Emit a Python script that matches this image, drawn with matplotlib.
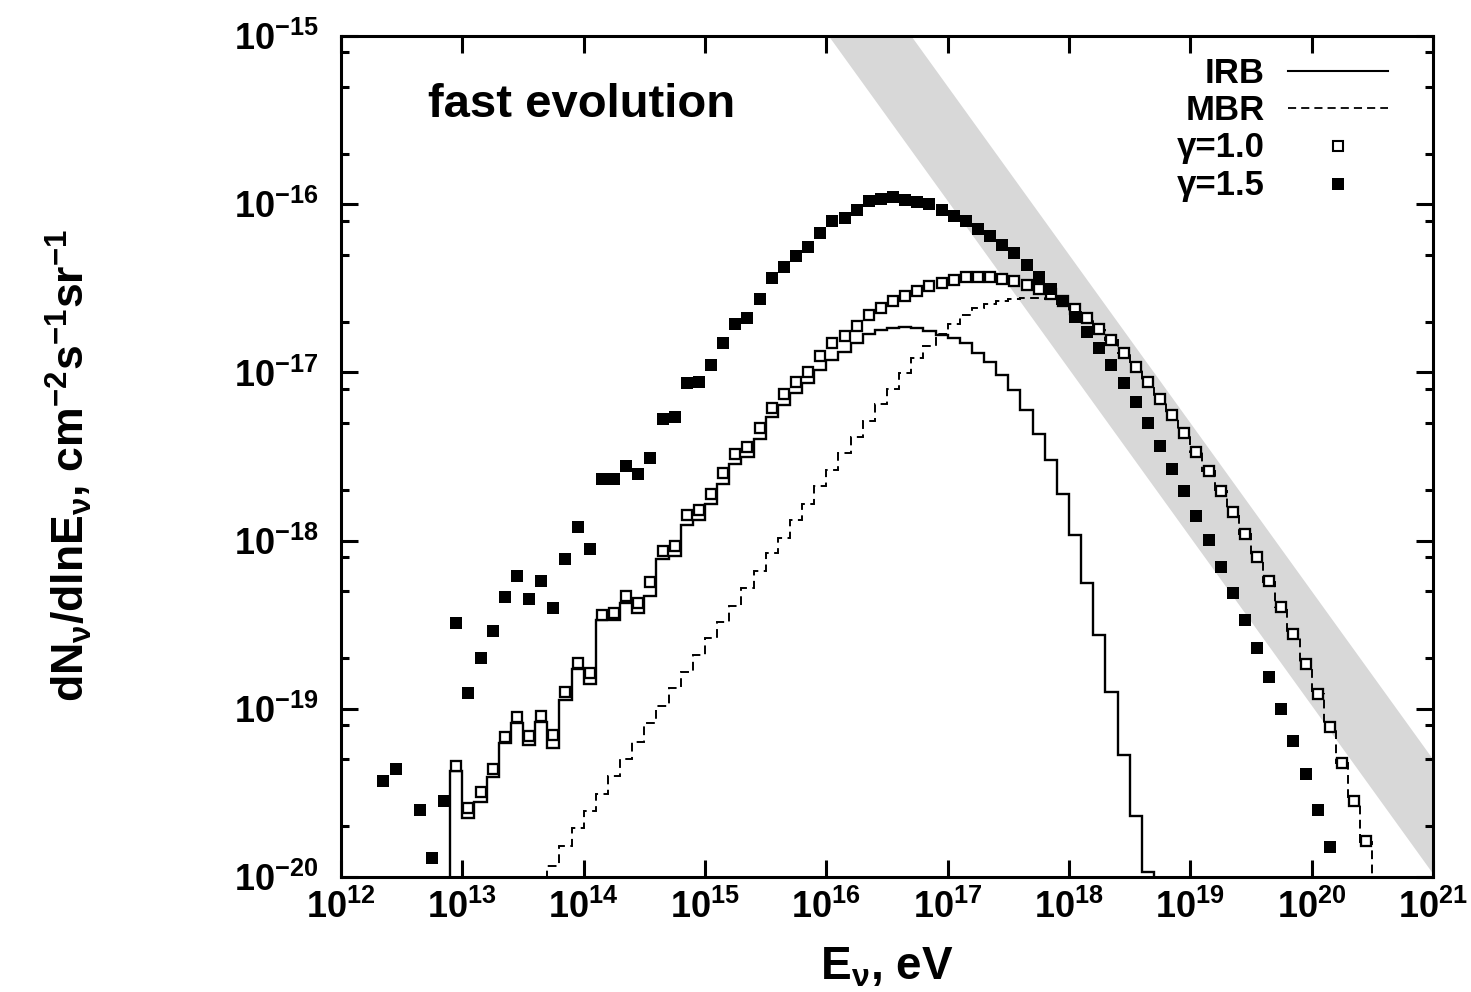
import numpy as np
import matplotlib
matplotlib.use("Agg")
import matplotlib.pyplot as plt
from matplotlib.ticker import FixedLocator, FixedFormatter, NullFormatter

plt.rcParams['font.family'] = ['Liberation Sans', 'DejaVu Sans']
plt.rcParams['font.weight'] = 'bold'
plt.rcParams['mathtext.fontset'] = 'custom'
plt.rcParams['mathtext.rm'] = 'Liberation Sans:bold'
plt.rcParams['mathtext.it'] = 'Liberation Sans:bold'
plt.rcParams['mathtext.bf'] = 'Liberation Sans:bold'
plt.rcParams['mathtext.sf'] = 'Liberation Sans:bold'
plt.rcParams['mathtext.default'] = 'rm'

# ---------------- data (log10 E/eV, log10 dN/dlnE [cm^-2 s^-1 sr^-1]) ----------------
# gamma = 1.5 : filled squares
g15_logE = [12.35, 12.45, 12.65, 12.75, 12.85, 12.95, 13.05, 13.15, 13.25, 13.35,
            13.45, 13.55, 13.65, 13.75, 13.85, 13.95, 14.05, 14.15, 14.25, 14.35,
            14.45, 14.55, 14.65, 14.75, 14.85, 14.95, 15.05, 15.15, 15.25, 15.35,
            15.45, 15.55, 15.65, 15.75, 15.85, 15.95, 16.05, 16.15, 16.25, 16.35,
            16.45, 16.55, 16.65, 16.75, 16.85, 16.95, 17.05, 17.15, 17.25, 17.35,
            17.45, 17.55, 17.65, 17.75, 17.85, 17.95, 18.05, 18.15, 18.25, 18.35,
            18.45, 18.55, 18.65, 18.75, 18.85, 18.95, 19.05, 19.15, 19.25, 19.35,
            19.45, 19.55, 19.65, 19.75, 19.85, 19.95, 20.05, 20.15]
g15_logF = [-19.429, -19.358, -19.602, -19.887, -19.548,
            -18.490, -18.906, -18.698, -18.537, -18.335, -18.210, -18.347, -18.240, -18.401, -18.109,
            -17.919, -18.050,
            -17.634, -17.634, -17.556, -17.604, -17.509, -17.277, -17.265, -17.063, -17.057, -16.956,
            -16.825, -16.712, -16.677, -16.564, -16.439, -16.373, -16.308, -16.254, -16.171, -16.100,
            -16.082, -16.034, -15.981, -15.969, -15.957, -15.975, -15.987, -15.999, -16.034, -16.070,
            -16.100, -16.147, -16.192, -16.243, -16.290, -16.361, -16.433, -16.504, -16.576, -16.671,
            -16.760, -16.855, -16.956, -17.063, -17.176, -17.301, -17.438, -17.574, -17.705, -17.854,
            -17.996, -18.157, -18.312, -18.472, -18.639, -18.811, -19.001, -19.191, -19.388, -19.602,
            -19.822]

# gamma = 1.0 : open squares
g10_logE = [12.95, 13.05, 13.15, 13.25, 13.35, 13.45, 13.55, 13.65, 13.75, 13.85,
            13.95, 14.05, 14.15, 14.25, 14.35, 14.45, 14.55, 14.65, 14.75, 14.85,
            14.95, 15.05, 15.15, 15.25, 15.35, 15.45, 15.55, 15.65, 15.75, 15.85,
            15.95, 16.05, 16.15, 16.25, 16.35, 16.45, 16.55, 16.65, 16.75, 16.85,
            16.95, 17.05, 17.15, 17.25, 17.35, 17.45, 17.55, 17.65, 17.75, 17.85,
            17.95, 18.05, 18.15, 18.25, 18.35, 18.45, 18.55, 18.65, 18.75, 18.85,
            18.95, 19.05, 19.15, 19.25, 19.35, 19.45, 19.55, 19.65, 19.75, 19.85,
            19.95, 20.05, 20.15, 20.25, 20.35, 20.45]
g10_logF = [-19.340, -19.590, -19.495, -19.358, -19.168, -19.049, -19.162, -19.043, -19.156, -18.900,
            -18.728, -18.787, -18.442, -18.430, -18.329, -18.371, -18.249, -18.060, -18.030, -17.848,
            -17.818, -17.723, -17.598, -17.485, -17.442, -17.329, -17.210, -17.128, -17.055, -16.996,
            -16.902, -16.827, -16.784, -16.724, -16.659, -16.617, -16.576, -16.544, -16.516, -16.486,
            -16.466, -16.448, -16.435, -16.435, -16.434, -16.442, -16.457, -16.478, -16.502, -16.536,
            -16.573, -16.621, -16.677, -16.740, -16.806, -16.885, -16.968, -17.060, -17.158, -17.256,
            -17.363, -17.471, -17.586, -17.707, -17.828, -17.960, -18.096, -18.243, -18.396, -18.555,
            -18.731, -18.912, -19.108, -19.321, -19.548, -19.788]

# IRB contribution : solid histogram (bin edges in log10 E)
irb_edges = [12.9, 13.0, 13.1, 13.2, 13.3, 13.4, 13.5, 13.6, 13.7, 13.8,
             13.9, 14.0, 14.1, 14.2, 14.3, 14.4, 14.5, 14.6, 14.7, 14.8,
             14.9, 15.0, 15.1, 15.2, 15.3, 15.4, 15.5, 15.6, 15.7, 15.8,
             15.9, 16.0, 16.1, 16.2, 16.3, 16.4, 16.5, 16.6, 16.7, 16.8,
             16.9, 17.0, 17.1, 17.2, 17.3, 17.4, 17.5, 17.6, 17.7, 17.8,
             17.9, 18.0, 18.1, 18.2, 18.3, 18.4, 18.5, 18.6, 18.7]
irb_logF = [-19.370, -19.649, -19.554, -19.405, -19.203, -19.084, -19.215, -19.078, -19.233, -18.948,
            -18.763, -18.853, -18.472, -18.472, -18.371, -18.430, -18.329, -18.109, -18.092, -17.907,
            -17.880, -17.782, -17.664, -17.547, -17.500, -17.394, -17.265, -17.194, -17.124, -17.065,
            -16.986, -16.926, -16.879, -16.825, -16.772, -16.748, -16.736, -16.733, -16.736, -16.754,
            -16.778, -16.796, -16.825, -16.882, -16.941, -17.018, -17.102, -17.221, -17.369, -17.521,
            -17.723, -17.964, -18.255, -18.564, -18.903, -19.275, -19.640, -19.968]

# MBR contribution : dashed histogram
mbr_edges = [13.7, 13.8, 13.9, 14.0, 14.1, 14.2, 14.3, 14.4, 14.5, 14.6,
             14.7, 14.8, 14.9, 15.0, 15.1, 15.2, 15.3, 15.4, 15.5, 15.6,
             15.7, 15.8, 15.9, 16.0, 16.1, 16.2, 16.3, 16.4, 16.5, 16.6,
             16.7, 16.8, 16.9, 17.0, 17.1, 17.2, 17.3, 17.4, 17.5, 17.6,
             17.7, 17.8, 17.9, 18.0, 18.1, 18.2, 18.3, 18.4, 18.5, 18.6,
             18.7, 18.8, 18.9, 19.0, 19.1, 19.2, 19.3, 19.4, 19.5, 19.6,
             19.7, 19.8, 19.9, 20.0, 20.1, 20.2, 20.3, 20.4, 20.5]
mbr_logF = [-19.935, -19.813, -19.709, -19.605, -19.507, -19.400, -19.298, -19.197, -19.084, -18.983,
            -18.876, -18.781, -18.680, -18.579, -18.486, -18.388, -18.282, -18.181, -18.076, -17.982,
            -17.880, -17.782, -17.675, -17.582, -17.482, -17.384, -17.287, -17.190, -17.100, -17.002,
            -16.916, -16.841, -16.772, -16.712, -16.659, -16.620, -16.593, -16.574, -16.564, -16.558,
            -16.558, -16.564, -16.595, -16.640, -16.690, -16.746, -16.808, -16.886, -16.969, -17.061,
            -17.159, -17.257, -17.364, -17.472, -17.587, -17.708, -17.829, -17.961, -18.097, -18.244,
            -18.397, -18.556, -18.732, -18.913, -19.109, -19.322, -19.549, -19.789]

# grey band: E * dN/dlnE = const (lower, upper), in eV cm^-2 s^-1 sr^-1
band_EF = [10 ** 1.02, 10 ** 1.70]
band_E = [1e12, 1e21]

x_ticks = [1e12, 1e13, 1e14, 1e15, 1e16, 1e17, 1e18, 1e19, 1e20, 1e21]
x_ticklabels = [r'$\mathregular{10^{%d}}$' % e for e in range(12, 22)]
y_ticks = [1e-20, 1e-19, 1e-18, 1e-17, 1e-16, 1e-15]
y_ticklabels = [r'$\mathregular{10^{%d}}$' % e for e in range(-20, -14)]
y_minor_mult = [2, 5, 8]

# ---------------- figure ----------------
W, H = 1471, 992
fig = plt.figure(figsize=(W / 100, H / 100), dpi=100)
ax = fig.add_axes([341 / W, 1 - 877 / H, 1092 / W, 841 / H])
ax.set_xscale('log')
ax.set_yscale('log')

bE = np.array(band_E)
ax.fill_between(bE, band_EF[0] / bE, band_EF[1] / bE, color='#d8d8d8', lw=0, zorder=1)

ax.stairs(10 ** np.array(irb_logF), 10 ** np.array(irb_edges), baseline=1e-22,
          fill=False, color='black', lw=1.7, zorder=3)
ax.stairs(10 ** np.array(mbr_logF), 10 ** np.array(mbr_edges), baseline=1e-22,
          fill=False, color='black', lw=1.4, linestyle=(0, (4.5, 2.8)), zorder=3)

ax.plot(10 ** np.array(g10_logE), 10 ** np.array(g10_logF), 's', ms=7.0, mfc='white',
        mec='black', mew=1.65, ls='none', zorder=4)
ax.plot(10 ** np.array(g15_logE), 10 ** np.array(g15_logF), 's', ms=8.6, mfc='black',
        mec='black', mew=0, ls='none', zorder=5)

ax.set_xlim(1e12, 1e21)
ax.set_ylim(1e-20, 1e-15)

ax.xaxis.set_major_locator(FixedLocator(x_ticks))
ax.xaxis.set_major_formatter(FixedFormatter(x_ticklabels))
ax.xaxis.set_minor_locator(FixedLocator([]))
ax.yaxis.set_major_locator(FixedLocator(y_ticks))
ax.yaxis.set_major_formatter(FixedFormatter(y_ticklabels))
ax.yaxis.set_minor_locator(FixedLocator([m * t for t in y_ticks[:-1] for m in y_minor_mult]))
ax.yaxis.set_minor_formatter(NullFormatter())

ax.tick_params(which='both', direction='in', top=True, right=True, width=2.2, labelsize=26)
ax.tick_params(which='major', length=12.5)
ax.tick_params(which='minor', length=6)
ax.tick_params(axis='x', pad=9)
ax.tick_params(axis='y', pad=16)
for s in ax.spines.values():
    s.set_linewidth(2.2)
    s.set_zorder(10)

ax.set_xlabel(r'E$_{\mathregular{ν}}$, eV', fontsize=33, fontweight='bold')
ax.xaxis.set_label_coords(0.5, -0.082)
ax.set_ylabel(r'dN$_{\mathregular{ν}}$/dlnE$_{\mathregular{ν}}$, cm$^{\mathregular{-2}}$s$^{\mathregular{-1}}$sr$^{\mathregular{-1}}$',
              fontsize=32, fontweight='bold')
ax.yaxis.set_label_coords(-0.226, 0.489)

ax.text(0.0797, 0.9037, 'fast evolution', transform=ax.transAxes, fontsize=34,
        fontweight='bold', ha='left', va='baseline')

# legend (drawn manually, right-aligned labels)
leg_labels = ['IRB', 'MBR', 'γ=1.0', 'γ=1.5']
leg_y = [0.955, 0.912, 0.867, 0.822]
for lab, yy in zip(leg_labels, leg_y):
    ax.text(0.846, yy, lab, transform=ax.transAxes, fontsize=25, fontweight='bold',
            ha='right', va='center')
ax.plot([0.8672, 0.9588], [0.9584, 0.9584], transform=ax.transAxes,
        color='black', lw=1.5, zorder=6)
ax.plot([0.8672, 0.9588], [0.9144, 0.9144], transform=ax.transAxes,
        color='black', lw=1.3, linestyle=(0, (4.5, 2.8)), zorder=6)
ax.plot([0.913], [0.8692], 's', transform=ax.transAxes, ms=6.8, mfc='white', mec='black',
        mew=1.5, zorder=6)
ax.plot([0.913], [0.824], 's', transform=ax.transAxes, ms=8.3, mfc='black', mec='black',
        mew=0, zorder=6)

fig.savefig('out.png', dpi=100)
